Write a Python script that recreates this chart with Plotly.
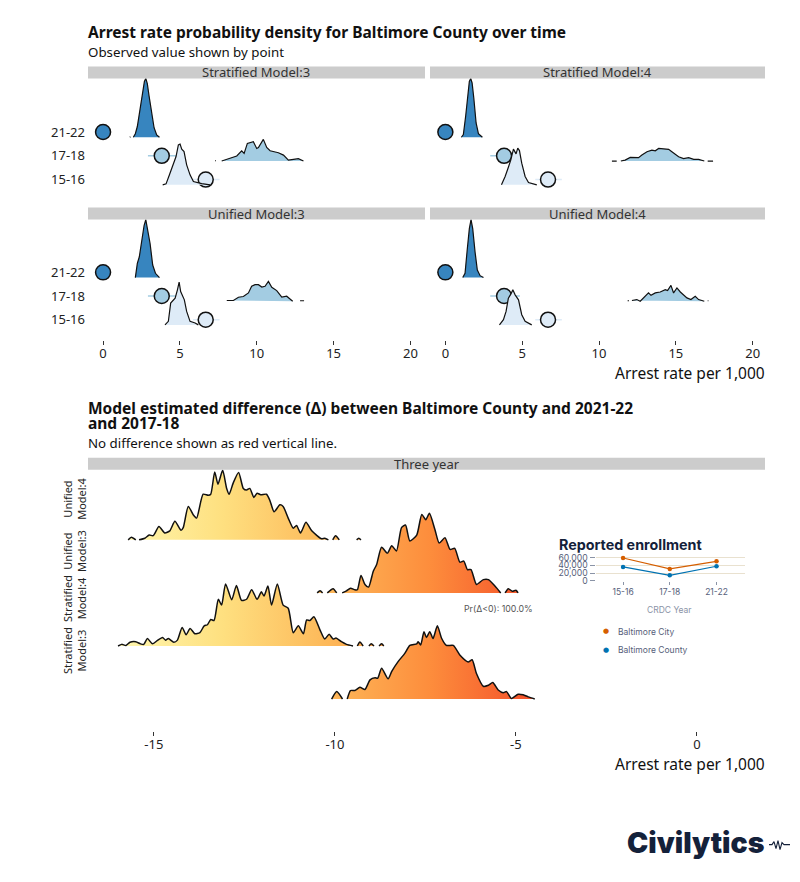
# Arrest rate ridgelines for Baltimore County, with enrollment inset and logo
import plotly.graph_objects as go

# page margin of 8px sits around the plot, so the figure is that much smaller
PAGE = 8
W = 800 - PAGE
H = 882 - PAGE
# vertical placement measured from the rendered page
Y_TOP = 11.6
Y_SPAN = 865.2
FONT = "Noto Sans"
INK = "#111111"

# Observed rates and their intervals, in the order 15-16, 17-18, 21-22
years = ['15-16', '17-18', '21-22']
year_pos = [1, 2, 3]
year_fill = ['#DEEBF7', '#A3CCE2', '#3785BF']
obs_rate = [6.68, 3.82, 0.0]
obs_low = [5.85, 2.92, 0.0]
obs_high = [7.58, 4.85, 0.0]

# Stratified Model:3 densities (x = rate, h = height above the ridge base)
s3_21_x = [1.74, 1.78, None, 1.97, 2.10, 2.23, 2.41, 2.56, 2.69, 2.78, 2.88, 2.99, 3.14, 3.32, 3.49, 3.67]
s3_21_h = [0, 0.02, None, 0, 0.15, 0.45, 1.15, 1.85, 2.35, 2.47, 2.25, 1.75, 1.05, 0.4, 0.1, 0]
s3_17_x = [7.30, 7.34, None, 7.72, 8.05, 8.37, 8.70, 9.02, 9.18, 9.39, 9.61, 9.78, 10.0, 10.11, 10.43, 10.65, 10.87, 11.08, 11.41, 11.74, 12.06, 12.39, 12.71, 13.04]
s3_17_h = [0, 0.02, None, 0, 0.07, 0.11, 0.21, 0.43, 0.32, 0.74, 0.77, 0.81, 0.53, 0.57, 0.91, 0.57, 0.43, 0.39, 0.35, 0.25, 0.04, 0.07, 0.10, 0]
s3_15_x = [3.88, 4.10, 4.32, 4.58, 4.75, 4.90, 5.01, 5.12, 5.27, 5.44, 5.66, 5.88, 6.10, 6.42, 6.96]
s3_15_h = [0, 0.04, 0.42, 0.91, 1.19, 1.68, 1.71, 1.5, 1.4, 0.84, 0.42, 0.14, 0.1, 0.05, 0]

# Stratified Model:4
s4_21_x = [1.04, 1.17, 1.32, 1.45, 1.56, 1.65, 1.74, 1.85, 2.0, 2.15, 2.41]
s4_21_h = [0, 0.11, 0.88, 1.86, 2.35, 2.47, 2.28, 1.65, 0.6, 0.15, 0]
s4_17_x = [10.84, 11.15, None, 11.42, 11.70, 12.03, 12.25, 12.57, 12.79, 13.12, 13.44, 13.66, 13.88, 14.2, 14.53, 14.74, 15.18, 15.5, 15.83, 16.16, 16.48, 16.85, None, 17.07, 17.42]
s4_17_h = [0, 0, None, 0, 0.04, 0.15, 0.15, 0.14, 0.25, 0.39, 0.46, 0.43, 0.53, 0.52, 0.49, 0.39, 0.18, 0.10, 0.14, 0.07, 0.07, 0, None, 0, 0]
s4_15_x = [3.65, 3.89, 4.1, 4.26, 4.43, 4.6, 4.71, 4.82, 4.97, 5.19, 5.41, 5.73, 5.95]
s4_15_h = [0, 0.35, 0.74, 1.05, 1.5, 1.3, 1.54, 1.44, 0.91, 0.35, 0.1, 0.04, 0]

# Unified Model:3
u3_21_x = [2.10, 2.23, 2.36, 2.52, 2.67, 2.78, 2.88, 3.06, 3.23, 3.41, 3.67]
u3_21_h = [0, 0.6, 0.88, 1.65, 2.2, 2.45, 2.14, 1.44, 0.53, 0.18, 0]
u3_17_x = [8.05, 8.48, 8.81, 9.13, 9.46, 9.67, 9.89, 10.11, 10.33, 10.54, 10.76, 10.98, 11.3, 11.63, 11.95, 12.34, None, 12.82, 13.08]
u3_17_h = [0.03, 0.03, 0.17, 0.2, 0.35, 0.63, 0.7, 0.7, 0.6, 0.63, 0.84, 0.59, 0.45, 0.17, 0.21, 0, None, 0.02, 0.02]
u3_15_x = [4.03, 4.25, 4.4, 4.69, 4.84, 4.95, 5.05, 5.29, 5.44, 5.66, 5.99, 6.2]
u3_15_h = [0, 0.15, 0.92, 1.13, 1.48, 1.81, 1.41, 1.06, 0.57, 0.15, 0.08, 0]

# Unified Model:4
u4_21_x = [1.13, 1.28, 1.43, 1.56, 1.67, 1.78, 1.93, 2.08, 2.26, 2.48]
u4_21_h = [0, 0.18, 1.23, 2.07, 2.45, 2.07, 1.09, 0.32, 0.08, 0]
u4_17_x = [11.86, 11.95, None, 12.14, 12.46, 12.68, 12.9, 13.07, 13.22, 13.38, 13.66, 13.98, 14.31, 14.46, 14.68, 14.85, 15.07, 15.29, 15.5, 15.72, 15.98, 16.26, 16.48, 16.85, None, 17.07, 17.12]
u4_17_h = [0.02, 0.02, None, 0.03, 0.07, 0, 0.14, 0.25, 0.35, 0.25, 0.35, 0.39, 0.49, 0.45, 0.67, 0.35, 0.56, 0.39, 0.25, 0.14, 0.07, 0.21, 0.07, 0, None, 0.02, 0.02]
u4_15_x = [3.52, 3.78, 3.95, 4.1, 4.26, 4.39, 4.54, 4.76, 4.97, 5.19, 5.62]
u4_15_h = [0, 0.22, 0.57, 1.13, 1.3, 1.48, 1.27, 1.06, 0.43, 0.15, 0]

# Three year differences
diff_u4_x = [-15.71, -15.62, -15.50, None, -15.41, -15.25, -15.13, -15.02, -14.86, -14.70, -14.56, -14.42, -14.25, -14.19, -14.05, -13.91, -13.82, -13.64, -13.50, -13.43, -13.32, -13.23, -13.10, -12.99, -12.92, -12.81, -12.66, -12.53, -12.44, -12.35, -12.24, -12.15, -12.05, -11.89, -11.80, -11.68, -11.52, -11.43, -11.29, -11.15, -11.06, -10.95, -10.80, -10.64, -10.51, -10.37, -10.28, -10.18, None, -10.06, -9.98, -9.88, None, -9.40, -9.34, -9.28]
diff_u4_h = [0, 0.05, 0, None, 0, 0.03, 0.09, 0.08, 0.25, 0.13, 0.17, 0.35, 0.18, 0.23, 0.63, 0.47, 0.41, 0.86, 0.84, 0.86, 1.28, 1.05, 1.31, 0.97, 0.86, 1.07, 1.27, 0.97, 0.94, 0.97, 0.8, 0.88, 0.85, 0.86, 0.75, 0.53, 0.66, 0.63, 0.41, 0.22, 0.27, 0.13, 0.33, 0.17, 0.09, 0.02, 0.03, 0, None, 0, 0.075, 0, None, 0, 0.03, 0]
diff_u3_x = [-10.49, -10.41, -10.34, None, -10.21, -10.05, -9.95, None, -9.80, -9.68, -9.57, -9.45, -9.38, -9.28, -9.17, -9.07, -8.94, -8.85, -8.71, -8.55, -8.43, -8.30, -8.16, -8.05, -7.93, -7.74, -7.60, -7.49, -7.39, -7.24, -7.12, -6.96, -6.82, -6.69, -6.55, -6.44, -6.34, -6.24, -6.09, -5.90, -5.76, -5.58, -5.42, None, -5.30, -5.21, -5.10, -5.0, -4.94]
diff_u3_h = [0, 0.04, 0, None, 0, 0.08, 0, None, 0, 0.04, 0.09, 0.06, 0.06, 0.33, 0.16, 0.11, 0.41, 0.53, 0.86, 0.75, 0.89, 0.79, 1.23, 1.28, 0.98, 1.09, 1.48, 1.38, 1.5, 1.2, 0.94, 1.04, 0.82, 0.84, 0.58, 0.6, 0.44, 0.44, 0.16, 0.25, 0.25, 0.13, 0, None, 0, 0.08, 0.03, 0.05, 0]
diff_s4_x = [-15.99, -15.89, -15.77, -15.66, -15.50, -15.37, -15.28, -15.18, -15.04, -14.91, -14.76, -14.68, -14.60, -14.45, -14.35, -14.22, -14.11, -14.0, -13.87, -13.73, -13.61, -13.52, -13.43, -13.34, -13.22, -13.13, -13.02, -12.85, -12.72, -12.58, -12.44, -12.30, -12.15, -12.03, -11.96, -11.85, -11.75, -11.59, -11.43, -11.29, -11.15, -11.01, -10.87, -10.78, -10.69, -10.58, -10.41, -10.28, -10.16, -10.05, -9.97, -9.82, -9.68, -9.50, None, -9.38, -9.31, -9.22, None, -9.06, -9.0, -8.92, None, -8.78, -8.71, -8.65]
diff_s4_h = [0, 0.03, 0.01, 0.07, 0.08, 0.04, 0.03, 0.14, 0.04, 0.10, 0.16, 0.11, 0.14, 0.07, 0.11, 0.35, 0.21, 0.33, 0.23, 0.25, 0.38, 0.40, 0.5, 0.48, 0.88, 0.77, 1.17, 0.87, 1.14, 0.86, 0.88, 1.06, 0.88, 1.02, 0.94, 1.13, 0.77, 1.17, 0.77, 0.71, 0.25, 0.38, 0.23, 0.49, 0.48, 0.55, 0.30, 0.13, 0.22, 0.13, 0.15, 0.08, 0.03, 0, None, 0, 0.075, 0, None, 0, 0.04, 0, None, 0, 0.04, 0]
diff_s3_x = [-10.09, -9.95, -9.79, None, -9.66, -9.57, -9.45, -9.31, -9.17, -9.03, -8.89, -8.82, -8.71, -8.53, -8.43, -8.25, -8.07, -7.93, -7.74, -7.70, -7.63, -7.54, -7.47, -7.38, -7.29, -7.17, -7.05, -6.92, -6.73, -6.55, -6.32, -6.21, -6.09, -5.90, -5.76, -5.64, -5.49, -5.35, -5.26, -5.12, -4.94, -4.80, -4.66, -4.48]
diff_s3_h = [0, 0.14, 0, None, 0, 0.16, 0.16, 0.22, 0.18, 0.36, 0.40, 0.39, 0.58, 0.38, 0.52, 0.71, 0.86, 1.01, 1.04, 1.08, 1.02, 1.27, 1.16, 1.27, 1.14, 1.38, 1.14, 1.01, 1.01, 0.83, 0.70, 0.74, 0.48, 0.24, 0.26, 0.31, 0.17, 0.12, 0.14, 0.01, 0.09, 0.08, 0.04, 0]

diff_ticks = [-15, -10, -5, 0]
diff_tick_text = ['-15', '-10', '-5', '0']
rate_ticks = [0, 5, 10, 15, 20]

# Inset enrollment chart
enroll_city = [59000, 31000, 50500]
enroll_county = [36000, 14500, 37700]
enroll_ticks = [0, 20000, 40000, 60000]

# Logo pulse
pulse_x = [0, 3, 5, 7, 9, 11, 13, 15, 21]
pulse_y = [0, 0, 3, -4, 4, -5, 2, 0, 0]


def xfrac(px):
    return (px - PAGE) / W


def yfrac(py):
    return 1 - (py - Y_TOP) / Y_SPAN


def xdom(left, right):
    return [xfrac(left), xfrac(right)]


def ydom(top, bottom):
    return [yfrac(bottom), yfrac(top)]


def note(px, py, text, size=13, color=INK, anchor='left', bold=False, angle=0, family=FONT):
    # annotations carry about 2px of padding on their anchored side
    nudge = {'left': -2, 'right': 2, 'center': 0}[anchor]
    return dict(x=xfrac(px + nudge), y=yfrac(py), xref='paper', yref='paper', text=text,
                showarrow=False, xanchor=anchor, yanchor='middle', textangle=angle, align='center',
                font=dict(family=family, size=size, color=color, weight=700 if bold else 400))


def strip(top, bottom, left, right, label):
    cx = (left + right) / 2
    shapes.append(dict(type='rect', xref='paper', yref='paper', x0=xfrac(left), x1=xfrac(right),
                       y0=yfrac(bottom), y1=yfrac(top), fillcolor='#CCCCCC', line_width=0, layer='below'))
    notes.append(note(cx, (top + bottom) / 2, label, size=13, color='#333333', anchor='center'))


def raised(h, base):
    return [None if v is None else base + v for v in h]


shapes = []
notes = []
fig = go.Figure()

# The four small multiples
panels = [
    ('x', 'y', [(s3_15_x, s3_15_h), (s3_17_x, s3_17_h), (s3_21_x, s3_21_h)]),
    ('x2', 'y2', [(s4_15_x, s4_15_h), (s4_17_x, s4_17_h), (s4_21_x, s4_21_h)]),
    ('x3', 'y3', [(u3_15_x, u3_15_h), (u3_17_x, u3_17_h), (u3_21_x, u3_21_h)]),
    ('x4', 'y4', [(u4_15_x, u4_15_h), (u4_17_x, u4_17_h), (u4_21_x, u4_21_h)]),
]
for xa, ya, ridges in panels:
    for i, year in enumerate(years):
        fig.add_trace(go.Scatter(
            x=[obs_rate[i]], y=[year_pos[i]], xaxis=xa, yaxis=ya, mode='markers', showlegend=False,
            marker=dict(size=15, color=year_fill[i], line=dict(color=INK, width=1.5)),
            error_x=dict(type='data', symmetric=False, array=[obs_high[i] - obs_rate[i]],
                         arrayminus=[obs_rate[i] - obs_low[i]], color=year_fill[i], thickness=1.5, width=0),
            cliponaxis=False))
    for i, (rx, rh) in enumerate(ridges):
        fig.add_trace(go.Scatter(
            x=rx, y=raised(rh, year_pos[i] - 0.22), xaxis=xa, yaxis=ya, mode='lines', fill='toself',
            fillcolor=year_fill[i], line=dict(color=INK, width=1.2), showlegend=False, cliponaxis=False))

# Three year panel, one gradient across all four ridges
grad = [[0, '#FFF7B0'], [0.25, '#FEE080'], [0.5, '#FDB95A'], [0.75, '#FD8D3C'], [1, '#F4502A']]
diffs = [(diff_s3_x, diff_s3_h, 1), (diff_s4_x, diff_s4_h, 2), (diff_u3_x, diff_u3_h, 3), (diff_u4_x, diff_u4_h, 4)]
for dx, dh, base in diffs:
    fig.add_trace(go.Scatter(
        x=dx, y=raised(dh, base), xaxis='x5', yaxis='y5', mode='lines', fill='toself',
        fillgradient=dict(type='horizontal', colorscale=grad, start=-16, stop=-4.5),
        line=dict(color=INK, width=1.5, shape='spline', smoothing=0.6), showlegend=False, cliponaxis=False))

# Inset
for name, vals, col in [('Baltimore City', enroll_city, '#D55E00'), ('Baltimore County', enroll_county, '#0072B2')]:
    fig.add_trace(go.Scatter(x=years, y=vals, xaxis='x6', yaxis='y6', mode='lines+markers', name=name,
                             line=dict(color=col, width=1.2), marker=dict(color=col, size=4.5),
                             showlegend=False, cliponaxis=False))

# Pulse next to the logo
fig.add_trace(go.Scatter(x=pulse_x, y=pulse_y, xaxis='x7', yaxis='y7', mode='lines',
                         line=dict(color='#14213A', width=1.1), showlegend=False))

base_x = dict(range=[-0.98, 20.95], tickvals=rate_ticks, showgrid=False, zeroline=False, showline=False,
              ticks='', showticklabels=False, tickfont=dict(family=FONT, size=13, color='#222222'))
base_y = dict(tickvals=year_pos, ticktext=years, showgrid=False, zeroline=False, showline=False, ticks='',
              ticklabelstandoff=2, tickfont=dict(family=FONT, size=13, color='#222222'))

fig.update_layout(
    width=W, height=H, autosize=False, margin=dict(l=0, r=0, t=0, b=0),
    paper_bgcolor='white', plot_bgcolor='white', showlegend=False, font=dict(family=FONT),
    xaxis=dict(base_x, domain=xdom(88, 425), anchor='y'),
    yaxis=dict(base_y, domain=ydom(79, 205), range=[-0.05, 5.25], anchor='x'),
    xaxis2=dict(base_x, domain=xdom(430, 765), range=[-1.0, 20.8], anchor='y2'),
    yaxis2=dict(base_y, domain=ydom(79, 205), range=[-0.05, 5.25], anchor='x2', showticklabels=False),
    xaxis3=dict(base_x, domain=xdom(88, 425), anchor='y3', ticks='outside', ticklen=4, tickcolor='#333333',
                showticklabels=True, ticklabelstandoff=-2),
    yaxis3=dict(base_y, domain=ydom(220, 340), range=[0.154, 5.23], anchor='x3'),
    xaxis4=dict(base_x, domain=xdom(430, 765), range=[-1.0, 20.8], anchor='y4', ticks='outside', ticklen=4,
                tickcolor='#333333', showticklabels=True, ticklabelstandoff=-2),
    yaxis4=dict(base_y, domain=ydom(220, 340), range=[0.154, 5.23], anchor='x4', showticklabels=False),
    xaxis5=dict(domain=xdom(88, 765), range=[-16.82, 1.88], anchor='y5', tickvals=diff_ticks, ticktext=diff_tick_text,
                showgrid=False, zeroline=False, ticks='outside', ticklen=4, tickcolor='#333333', ticklabelstandoff=-3,
                tickfont=dict(family=FONT, size=13, color='#222222')),
    yaxis5=dict(domain=ydom(470, 731), range=[0.396, 5.32], anchor='x5', visible=False),
    xaxis6=dict(domain=xdom(595.5, 745), range=[-0.59, 2.61], anchor='y6', type='category', showgrid=False,
                zeroline=False, showline=False, ticks='outside', ticklen=3, tickcolor='#8A93A6',
                tickfont=dict(family='Inter', size=8.5, color='#56607A')),
    yaxis6=dict(domain=ydom(556, 581), range=[0, 64400], anchor='x6', tickvals=enroll_ticks, tickformat=',',
                gridcolor='#E9E1CF', gridwidth=1, zeroline=False, ticks='outside', ticklen=5, tickcolor='#8A93A6',
                tickfont=dict(family='Inter', size=8.7, color='#56607A')),
    xaxis7=dict(domain=xdom(769, 790), range=[0, 21], anchor='y7', visible=False),
    yaxis7=dict(domain=ydom(838, 851), range=[-6.5, 6.5], anchor='x7', visible=False),
)

# Headings
notes.append(note(88, 33, 'Arrest rate probability density for Baltimore County over time', size=15.5, bold=True))
notes.append(note(88, 53, 'Observed value shown by point', size=13.3))
notes.append(note(88, 408, 'Model estimated difference (Δ) between Baltimore County and 2021-22', size=15.5, bold=True))
notes.append(note(88, 423, 'and 2017-18', size=15.5, bold=True))
notes.append(note(88, 443, 'No difference shown as red vertical line.', size=13.3))
notes.append(note(765, 373, 'Arrest rate per 1,000', size=15.5, anchor='right', color='#111111'))
notes.append(note(765, 764, 'Arrest rate per 1,000', size=15.5, anchor='right', color='#111111'))

strip(67, 79, 88, 425, 'Stratified Model:3')
strip(67, 79, 430, 765, 'Stratified Model:4')
strip(208, 220, 88, 425, 'Unified Model:3')
strip(208, 220, 430, 765, 'Unified Model:4')
strip(458, 470, 88, 765, 'Three year')

# Rotated labels of the three year panel
for cy, label in [(499, 'Unified<br>Model:4'), (551, 'Unified<br>Model:3'), (599, 'Stratified<br>Model:4'), (651, 'Stratified<br>Model:3')]:
    notes.append(note(75, cy, label, size=11, color='#222222', anchor='center', angle=-90))

notes.append(note(498, 609, 'Pr(Δ<0): 100.0%', size=8.8, color='#555555', anchor='center', family='Inter'))

# Inset text and hand-placed legend
notes.append(note(559, 545, 'Reported enrollment', size=14.3, color='#14213A', bold=True, family='Inter'))
notes.append(note(669.5, 610.5, 'CRDC Year', size=8.5, color='#8A93A6', anchor='center', family='Inter'))
notes.append(note(606, 631.5, '●', size=7, color='#D55E00', anchor='center', family='DejaVu Sans'))
notes.append(note(606, 650, '●', size=7, color='#0072B2', anchor='center', family='DejaVu Sans'))
notes.append(note(618, 632, 'Baltimore City', size=8.5, color='#56607A', family='Inter'))
notes.append(note(618, 650, 'Baltimore County', size=8.5, color='#56607A', family='Inter'))

# Logo
notes.append(note(627, 842, 'Civilytics', size=28.5, color='#14213A', bold=True, family='Inter'))
notes[-1]['font']['weight'] = 900

fig.update_layout(shapes=shapes, annotations=notes)
fig.write_html("out.html")
